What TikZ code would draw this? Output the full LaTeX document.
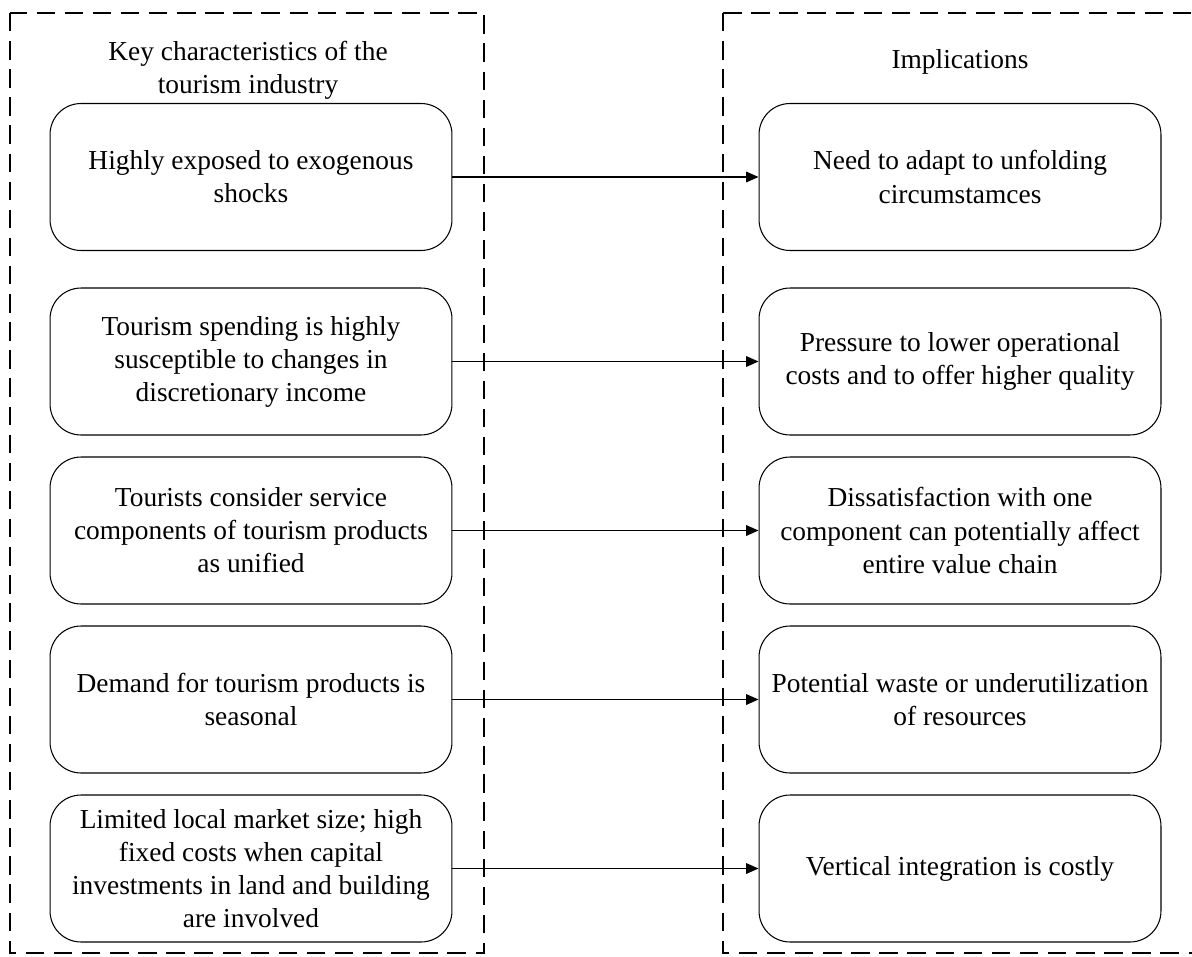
\documentclass[tikz,border=0pt]{standalone}
\usepackage{fontspec}
\setmainfont{Liberation Serif}
\usetikzlibrary{arrows.meta}

\begin{document}
\begin{tikzpicture}[x=0.02cm, y=-0.02cm,
  every node/.style={font=\fontsize{15.6}{18.8}\selectfont, align=center},
  item/.style={draw, line width=0.6pt, rounded corners=0.62cm, minimum width=8.04cm, minimum height=2.94cm, inner sep=0pt},
  group/.style={draw, line width=1.4pt, dash pattern=on 10.5pt off 5.5pt},
  link/.style={line width=0.8pt, -{Triangle[length=7pt, width=6pt]}}]

\useasboundingbox (0,0) rectangle (1192,956);

\draw[group] (10,13) rectangle (484,953);
\draw[group] (723,13) rectangle (1240,953);

\node (keyhead) at (248,70) {Key characteristics of the\\tourism industry};
\node (imphead) at (960,62) {Implications};

\node[item] (k1) at (251,177) {Highly exposed to exogenous\\shocks};
\node[item] (k2) at (251,361.5) {Tourism spending is highly\\susceptible to changes in\\discretionary income};
\node[item] (k3) at (251,530.5) {Tourists consider service\\components of tourism products\\as unified};
\node[item] (k4) at (251,699.5) {Demand for tourism products is\\seasonal};
\node[item] (k5) at (251,868.5) {Limited local market size; high\\fixed costs when capital\\investments in land and building\\are involved};

\node[item] (i1) at (960,177) {Need to adapt to unfolding\\circumstamces};
\node[item] (i2) at (960,361.5) {Pressure to lower operational\\costs and to offer higher quality};
\node[item] (i3) at (960,530.5) {Dissatisfaction with one\\component can potentially affect\\entire value chain};
\node[item] (i4) at (960,699.5) {Potential waste or underutilization\\of resources};
\node[item] (i5) at (960,868.5) {Vertical integration is costly};

\foreach \n in {1,...,5}
  \draw[link] (k\n.east) -- (i\n.west);
\end{tikzpicture}
\end{document}
